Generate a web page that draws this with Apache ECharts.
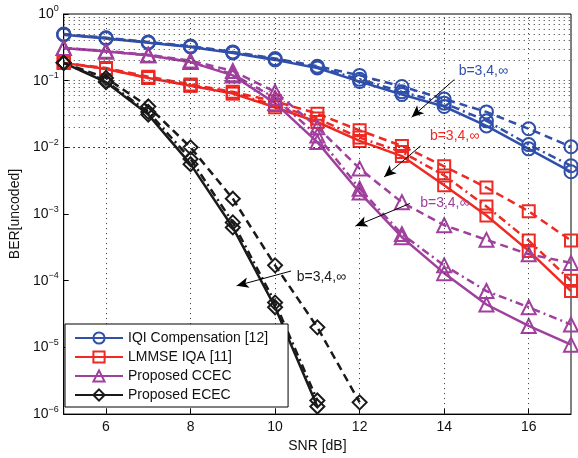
<!DOCTYPE html>
<html>
<head>
<meta charset="utf-8">
<script src="https://cdn.jsdelivr.net/npm/echarts@6/dist/echarts.min.js"></script>
<style>
  html, body { margin: 0; padding: 0; background: #fff; }
  #ber { width: 578px; height: 458px; }
</style>
</head>
<body>
<div id="ber"></div>
<script>
// SNR points (dB)
const snr = [5, 6, 7, 8, 9, 10, 11, 12, 13, 14, 15, 16, 17];
const snrEcec = [5, 6, 7, 8, 9, 10, 11];
const snrEcecB3 = [5, 6, 7, 8, 9, 10, 11, 12];

// IQI Compensation [12]
const iqiInf = [0.49, 0.43, 0.37, 0.32, 0.26, 0.205, 0.155, 0.097, 0.062, 0.041, 0.021, 0.0095, 0.0043];
const iqiB4 = [0.49, 0.435, 0.375, 0.325, 0.265, 0.21, 0.16, 0.105, 0.068, 0.046, 0.025, 0.011, 0.0053];
const iqiB3 = [0.5, 0.44, 0.38, 0.33, 0.27, 0.215, 0.165, 0.12, 0.082, 0.053, 0.034, 0.019, 0.0102];

// LMMSE IQA [11]
const lmmseInf = [0.185, 0.15, 0.11, 0.084, 0.064, 0.04, 0.024, 0.0125, 0.0074, 0.0027, 0.00095, 0.00028, 0.00007];
const lmmseB4 = [0.185, 0.15, 0.11, 0.085, 0.065, 0.043, 0.027, 0.014, 0.0085, 0.0038, 0.0013, 0.0004, 0.0001];
const lmmseB3 = [0.185, 0.155, 0.115, 0.088, 0.068, 0.049, 0.032, 0.018, 0.0105, 0.0052, 0.0025, 0.0011, 0.0004];

// Proposed CCEC
const ccecInf = [0.31, 0.275, 0.24, 0.19, 0.12, 0.046, 0.012, 0.0021, 0.00045, 0.00013, 0.000044, 0.000021, 0.000011];
const ccecB4 = [0.31, 0.275, 0.24, 0.19, 0.125, 0.055, 0.015, 0.0024, 0.0005, 0.00017, 0.00007, 0.00004, 0.000022];
const ccecB3 = [0.31, 0.28, 0.245, 0.2, 0.14, 0.068, 0.02, 0.0048, 0.0015, 0.00068, 0.00041, 0.00025, 0.000185];

// Proposed ECEC
const ececInf = [0.185, 0.095, 0.031, 0.0056, 0.00063, 0.00004, 0.0000013];
const ececB4 = [0.185, 0.098, 0.034, 0.0067, 0.00075, 0.000047, 0.0000016];
const ececB3 = [0.185, 0.11, 0.041, 0.01, 0.0017, 0.00017, 0.00002, 0.0000015];

const xTicks = [6, 8, 10, 12, 14, 16];
const groupNames = ["IQI Compensation [12]", "LMMSE IQA [11]", "Proposed CCEC", "Proposed ECEC"];
const annotText = "b=3,4,\u221e";

const BLUE = "#3050ac";
const RED = "#ee2a24";
const PURPLE = "#a0409e";
const BLACK = "#1a1a1a";

const DASH = [8, 5];
const DASHDOT = [8, 4, 2, 4];

const chart = echarts.init(document.getElementById("ber"));

function curve(name, xs, ys, color, symbol, size, dash) {
  return {
    name: name,
    type: "line",
    data: xs.map((x, i) => [x, ys[i]]),
    symbol: symbol,
    symbolSize: size,
    showAllSymbol: true,
    lineStyle: { color: color, width: 2.5, type: dash },
    itemStyle: { color: "rgba(0,0,0,0)", borderColor: color, borderWidth: 2 },
    emphasis: { disabled: true },
    animation: false,
    z: 3,
  };
}

// dotted grid lines (log minor grid + even x)
const gridLines = [];
for (let k = -6; k < 0; k++) {
  for (let m = 1; m <= 9; m++) {
    if (!(k === -6 && m === 1)) gridLines.push({ yAxis: m * Math.pow(10, k) });
  }
}
xTicks.forEach((v) => gridLines.push({ xAxis: v }));

// b=3,4,inf annotations: [textX, textY, fromX, fromY, toX, toY, color]
const annots = [
  [14.33, 0.137, 14.24, 0.104, 13.23, 0.0283, BLUE],
  [13.65, 0.0148, 13.44, 0.0105, 12.58, 0.0036, RED],
  [13.42, 0.00144, 13.19, 0.00144, 11.9, 0.00066, PURPLE],
  [10.5, 0.000115, 10.38, 0.00014, 9.09, 0.000084, BLACK],
];

let option = {
  backgroundColor: "#fff",
  textStyle: { fontFamily: "Liberation Sans, Arial, sans-serif" },
  grid: {
    left: 58,
    right: 7,
    top: 14,
    bottom: 41,
    show: true,
    borderColor: "#000",
    borderWidth: 1,
    backgroundColor: "#fff",
  },
  legend: {
    data: groupNames,
    orient: "vertical",
    left: 65,
    top: 324,
    padding: [7, 20, 5, 9],
    itemWidth: 48,
    itemHeight: 14,
    itemGap: 5,
    backgroundColor: "#fff",
    borderColor: "#000",
    borderWidth: 1,
    borderRadius: 0,
    selectedMode: false,
    textStyle: { fontSize: 14, color: "#111", fontFamily: "Liberation Sans, Arial, sans-serif" },
    z: 10,
  },
  xAxis: {
    type: "value",
    min: 5,
    max: 17,
    interval: 1,
    name: "SNR [dB]",
    nameLocation: "middle",
    nameGap: 24,
    nameTextStyle: { fontSize: 14, color: "#111" },
    axisLine: { lineStyle: { color: "#000", width: 1 } },
    axisTick: { inside: true, length: 5, customValues: xTicks, lineStyle: { color: "#000" } },
    axisLabel: { customValues: xTicks, fontSize: 14, color: "#111", margin: 6 },
    splitLine: { show: false },
  },
  yAxis: {
    type: "log",
    logBase: 10,
    min: 1e-6,
    max: 1,
    name: "BER[uncoded]",
    nameLocation: "middle",
    nameGap: 37,
    nameTextStyle: { fontSize: 14, color: "#111" },
    axisLine: { lineStyle: { color: "#000", width: 1 } },
    axisTick: { inside: true, length: 5, lineStyle: { color: "#000" } },
    axisLabel: {
      margin: 5,
      formatter: function (v) {
        const e = Math.round(Math.log10(v));
        return "{b|10}{e|" + (e < 0 ? "\u2212" + -e : e) + "}";
      },
      rich: {
        b: { fontSize: 14, color: "#111" },
        e: { fontSize: 9, color: "#111", padding: [0, 0, 10, 0] },
      },
    },
    splitLine: { show: false },
  },
  series: [
    {
      type: "line",
      data: [],
      silent: true,
      z: 1,
      markLine: {
        silent: true,
        animation: false,
        symbol: ["none", "none"],
        label: { show: false },
        lineStyle: { color: "#333", width: 1, type: [1, 4] },
        emphasis: { disabled: true },
        data: gridLines,
      },
    },
    curve(groupNames[0], snr, iqiInf, BLUE, "circle", 13, "solid"),
    curve(groupNames[0] + " b=4", snr, iqiB4, BLUE, "circle", 13, DASHDOT),
    curve(groupNames[0] + " b=3", snr, iqiB3, BLUE, "circle", 13, DASH),
    curve(groupNames[1], snr, lmmseInf, RED, "rect", 12, "solid"),
    curve(groupNames[1] + " b=4", snr, lmmseB4, RED, "rect", 12, DASHDOT),
    curve(groupNames[1] + " b=3", snr, lmmseB3, RED, "rect", 12, DASH),
    curve(groupNames[2], snr, ccecInf, PURPLE, "triangle", 14, "solid"),
    curve(groupNames[2] + " b=4", snr, ccecB4, PURPLE, "triangle", 14, DASHDOT),
    curve(groupNames[2] + " b=3", snr, ccecB3, PURPLE, "triangle", 14, DASH),
    curve(groupNames[3], snrEcec, ececInf, BLACK, "diamond", 14, "solid"),
    curve(groupNames[3] + " b=4", snrEcec, ececB4, BLACK, "diamond", 14, DASHDOT),
    curve(groupNames[3] + " b=3", snrEcecB3, ececB3, BLACK, "diamond", 14, DASH),
    {
      type: "line",
      data: [],
      silent: true,
      z: 5,
      markLine: {
        silent: true,
        animation: false,
        symbol: ["none", "arrow"],
        symbolSize: [8, 12],
        label: { show: false },
        lineStyle: { color: "#000", width: 1, type: "solid" },
        emphasis: { disabled: true },
        data: annots.map((a) => [{ coord: [a[2], a[3]] }, { coord: [a[4], a[5]] }]),
      },
      markPoint: {
        silent: true,
        animation: false,
        symbol: "circle",
        symbolSize: 1,
        itemStyle: { color: "rgba(0,0,0,0)" },
        data: annots.map((a) => ({
          coord: [a[0], a[1]],
          label: {
            show: true,
            position: "right",
            distance: 0,
            formatter: annotText,
            fontSize: 14,
            color: a[6],
          },
        })),
      },
    },
  ],
};

chart.setOption(option);
</script>
</body>
</html>
